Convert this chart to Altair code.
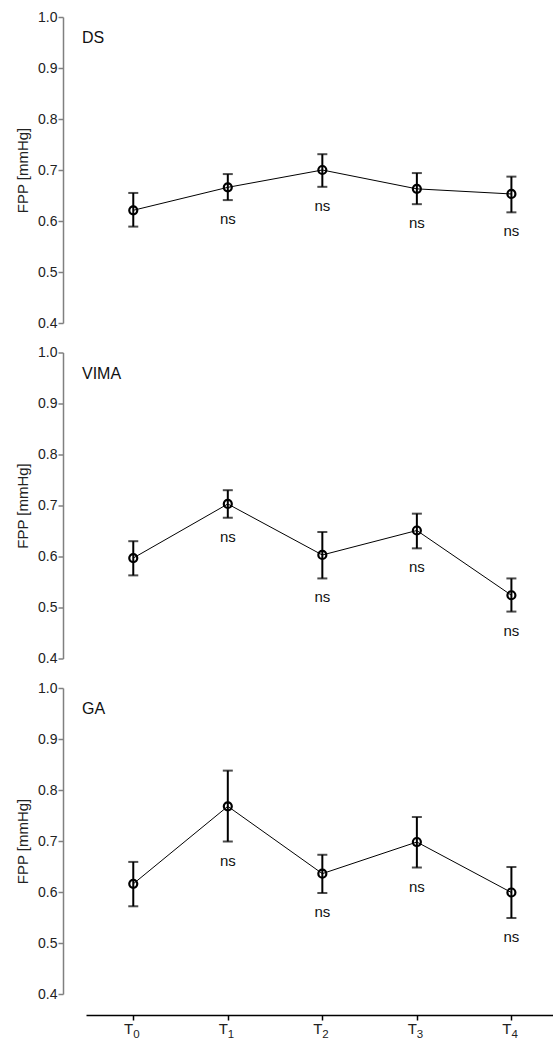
import altair as alt
import pandas as pd

# ---- data ----
times = ["T0", "T1", "T2", "T3", "T4"]
subs = ["0", "1", "2", "3", "4"]
x_idx = [0, 1, 2, 3, 4]
sig = ["", "ns", "ns", "ns", "ns"]

ds_mean = [0.621, 0.666, 0.700, 0.663, 0.653]
ds_low = [0.589, 0.641, 0.667, 0.633, 0.617]
ds_high = [0.655, 0.692, 0.731, 0.694, 0.687]

vima_mean = [0.597, 0.703, 0.603, 0.651, 0.524]
vima_low = [0.563, 0.676, 0.557, 0.616, 0.492]
vima_high = [0.630, 0.730, 0.648, 0.684, 0.557]

ga_mean = [0.616, 0.768, 0.636, 0.698, 0.599]
ga_low = [0.572, 0.699, 0.598, 0.648, 0.549]
ga_high = [0.659, 0.838, 0.673, 0.747, 0.649]

y_ticks = [0.4, 0.5, 0.6, 0.7, 0.8, 0.9, 1.0]

FONT = "Liberation Sans"
W, H = 467, 306

xscale = alt.Scale(domain=[-0.5, 4.44], nice=False, zero=False)
yscale = alt.Scale(domain=[0.4, 1.0], nice=False, zero=False)


def panel(name, mean, low, high, bottom):
    df = pd.DataFrame({"i": x_idx, "t": times, "sub": subs, "m": mean,
                       "lo": low, "hi": high, "sig": sig})
    base = alt.Chart(df)
    if bottom:
        xax = alt.Axis(values=x_idx, labels=False, domainColor="black",
                       domainWidth=1.5, tickColor="black", tickWidth=1.5,
                       tickSize=5, offset=21, grid=False, title=None)
    else:
        xax = None
    yax = alt.Axis(values=y_ticks, format=".1f", offset=23, grid=False,
                   domainColor="#808080", domainWidth=1.5, tickColor="#808080",
                   tickWidth=1.5, tickSize=5, labelPadding=1,
                   labelFont=FONT, labelFontSize=14, labelColor="#222222",
                   title="FPP [mmHg]", titleFont=FONT, titleFontSize=15,
                   titleFontWeight="normal", titleColor="#222222",
                   titlePadding=7)
    X = alt.X("i:Q", scale=xscale, axis=xax)

    def Y(f):
        return alt.Y(f, scale=yscale, axis=yax)

    line = base.mark_line(color="black", strokeWidth=1).encode(x=X, y=Y("m:Q"))
    err = base.mark_rule(color="black", strokeWidth=2).encode(
        x=X, y=Y("lo:Q"), y2="hi:Q")
    cap_lo = base.mark_tick(color="black", orient="horizontal", size=10,
                            thickness=2).encode(x=X, y=Y("lo:Q"))
    cap_hi = base.mark_tick(color="black", orient="horizontal", size=10,
                            thickness=2).encode(x=X, y=Y("hi:Q"))
    pts = base.mark_point(shape="circle", filled=False, color="black",
                          size=64, strokeWidth=2.2, opacity=1).encode(
        x=X, y=Y("m:Q"))
    ns = base.transform_filter("datum.sig != ''").mark_text(
        font=FONT, fontSize=15, color="#111111", dy=19, baseline="middle",
        align="center").encode(x=X, y=Y("lo:Q"), text="sig:N")
    lab = alt.Chart(pd.DataFrame({"label": [name]})).mark_text(
        font=FONT, fontSize=16, color="#111111", align="left",
        baseline="alphabetic").encode(
        text="label:N", x=alt.value(-4), y=alt.value(26))

    layers = [line, err, cap_lo, cap_hi, pts, ns, lab]
    if bottom:
        t_lab = base.mark_text(font=FONT, fontSize=15, color="#222222",
                               align="right", baseline="alphabetic",
                               dx=0).encode(
            x=X, y=alt.value(H + 40), text=alt.value("T"))
        s_lab = base.mark_text(font=FONT, fontSize=11.5, color="#222222",
                               align="left", baseline="alphabetic",
                               dx=0).encode(
            x=X, y=alt.value(H + 44), text="sub:N")
        layers += [t_lab, s_lab]
    return alt.layer(*layers).properties(width=W, height=H)


chart = alt.vconcat(
    panel("DS", ds_mean, ds_low, ds_high, False),
    panel("VIMA", vima_mean, vima_low, vima_high, False),
    panel("GA", ga_mean, ga_low, ga_high, True),
    spacing=29.5,
    bounds="flush",
).properties(
    padding={"left": 15, "top": 10, "right": 0, "bottom": 0},
    background="white",
).configure_view(stroke=None)

chart.save("out.html", embed_options={"renderer": "svg", "actions": False})
